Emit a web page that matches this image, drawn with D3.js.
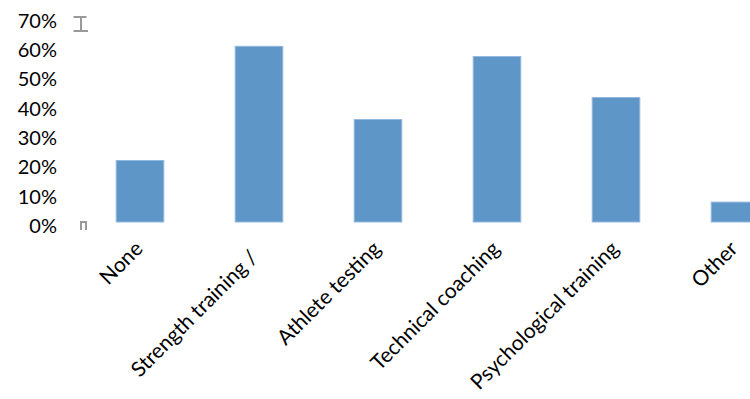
<!DOCTYPE html>
<html>
<head>
<meta charset="utf-8">
<script src="https://cdn.jsdelivr.net/npm/d3@7"></script>
<style>
  html, body { margin: 0; padding: 0; background: #fff; }
  svg { display: block; }
  text { font-family: Lato, "Open Sans", sans-serif; fill: #000; }
</style>
</head>
<body>
<svg id="chart" width="750" height="399"></svg>
<script>
// Support activities used by athletes (share of respondents)
const categories = ["None", "Strength training /", "Athlete testing", "Technical coaching", "Psychological training", "Other"];
const shares = [0.21, 0.60, 0.35, 0.565, 0.425, 0.068];
const yTicks = [0, 0.1, 0.2, 0.3, 0.4, 0.5, 0.6, 0.7];

const svg = d3.select("#chart");

const x = d3.scaleBand()
  .domain(categories)
  .range([80.5, 794.5])
  .paddingInner(0.6)
  .paddingOuter(0.3);

const y = d3.scaleLinear()
  .domain([0, 0.7])
  .range([222, 17]);

// Value axis: labels only, no gridlines
const yAxis = svg.append("g")
  .attr("transform", "translate(62,4)")
  .call(d3.axisLeft(y).tickValues(yTicks).tickFormat(d3.format(".0%")).tickSize(0).tickPadding(5));
yAxis.select(".domain").remove();
yAxis.selectAll("text")
  .style("font-family", "Lato, 'Open Sans', sans-serif")
  .style("font-size", "20px")
  .attr("fill", "#000");

// Small axis end caps
const capTop = y(0.7);
const capBottom = y(0);
svg.append("path")
  .attr("d", `M73.5,${capTop} H86.5 M81,${capTop} V${capTop + 13} M73.5,${capTop + 14} H88`)
  .attr("stroke", "#9a9a9a").attr("stroke-width", 2).attr("fill", "none");
svg.append("path")
  .attr("d", `M81,${capBottom + 8} V${capBottom} H86 V${capBottom + 8}`)
  .attr("stroke", "#9a9a9a").attr("stroke-width", 2).attr("fill", "none");

// Bars
svg.append("g")
  .selectAll("rect")
  .data(categories)
  .join("rect")
  .attr("x", d => x(d))
  .attr("y", (d, i) => y(shares[i]))
  .attr("width", x.bandwidth())
  .attr("height", (d, i) => y(0) - y(shares[i]))
  .attr("fill", "#5f96c8")
  .attr("stroke", "#93b8de")
  .attr("stroke-width", 1);

// Rotated category labels
const labelShift = { "Strength training /": [-4, 9] };
svg.append("g")
  .selectAll("text")
  .data(categories)
  .join("text")
  .attr("transform", d => {
    const s = labelShift[d] || [0, 0];
    const cx = x(d) + x.bandwidth() / 2 + 4 + s[0];
    const cy = 250 + s[1];
    return `translate(${cx},${cy}) rotate(-45)`;
  })
  .attr("text-anchor", "end")
  .style("font-size", "21px")
  .text(d => d);
</script>
</body>
</html>
